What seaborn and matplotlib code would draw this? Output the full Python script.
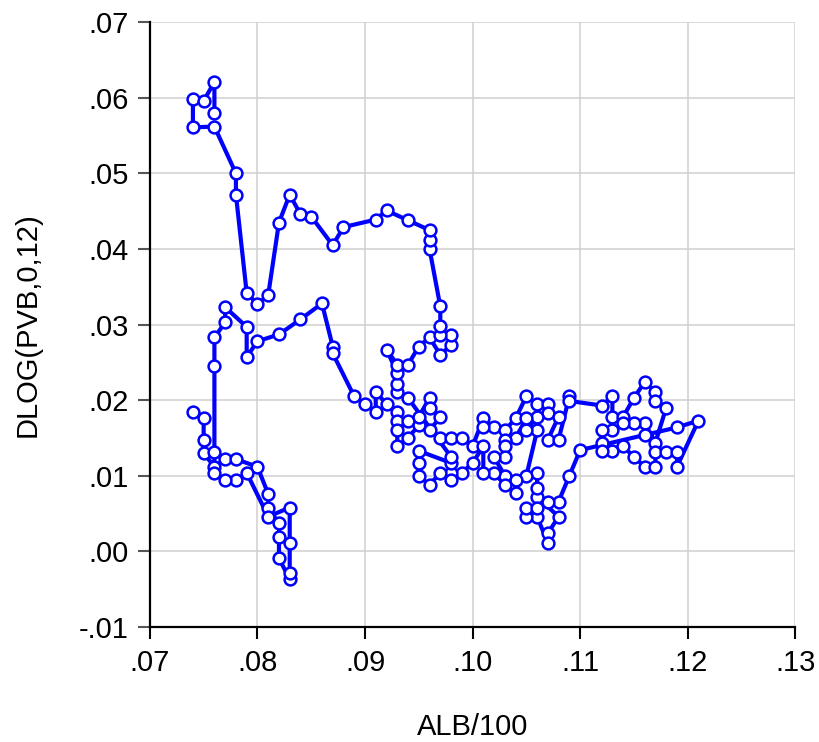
import pandas as pd
import matplotlib.pyplot as plt
import seaborn as sns
from matplotlib.ticker import FuncFormatter, MultipleLocator

# Values, in path order
alb = [
    .074, .075, .075, .075, .076, .077, .078, .080, .081, .081,
    .082, .082, .082, .083, .083, .083, .083, .081, .079, .078,
    .077, .076, .076, .076, .076, .077, .077, .079, .079, .080,
    .082, .084, .086, .087, .087, .089,
    .090, .091, .091, .092, .093, .093, .094, .093, .093, .094,
    .095, .095, .096, .096, .097, .096, .097, .098, .099, .100,
    .101, .102, .101, .103, .104, .105, .106, .107, .107, .108,
    .107, .108, .109, .109, .112, .113, .113, .114, .115, .116,
    .117, .117, .118, .117, .116, .115, .114, .113, .112, .112,
    .113, .112, .114, .115, .116, .117, .117, .118, .119, .119,
    .121, .119, .116, .110, .109, .108, .107, .106, .108, .107,
    .107, .106, .105, .105, .106, .106, .106, .105, .106, .105,
    .106, .105, .104, .103, .103, .103, .102, .103, .104, .104,
    .103, .102, .101, .101, .100, .099, .098, .098, .097, .096,
    .095, .095, .095, .098, .098, .094, .093, .093, .093, .092,
    .093, .094, .095, .096, .097, .098, .098, .097, .097, .097,
    .096, .096, .096, .094, .092, .091, .088, .087, .085, .084,
    .083, .082, .081, .080, .079, .078, .078, .076, .074, .074,
    .075, .076, .076,
]
dlog_pvb = [
    .0184, .0176, .0148, .0130, .0112, .0122, .0122, .0112, .0076, .0058,
    .0037, .0019, -.0009, -.0037, -.0028, .0011, .0058, .0046, .0104, .0094,
    .0094, .0104, .0131, .0245, .0283, .0303, .0323, .0297, .0257, .0278,
    .0287, .0307, .0328, .0271, .0262, .0205,
    .0195, .0185, .0211, .0195, .0185, .0173, .0173, .0160, .0139, .0150,
    .0167, .0178, .0203, .0190, .0178, .0160, .0150, .0150, .0150, .0139,
    .0176, .0164, .0164, .0160, .0176, .0205, .0195, .0195, .0183, .0178,
    .0148, .0148, .0205, .0199, .0193, .0205, .0178, .0178, .0203, .0224,
    .0211, .0199, .0190, .0144, .0170, .0170, .0170, .0160, .0160, .0144,
    .0133, .0133, .0139, .0125, .0112, .0112, .0131, .0131, .0131, .0112,
    .0173, .0164, .0154, .0134, .0100, .0066, .0066, .0072, .0046, .0024,
    .0011, .0046, .0046, .0058, .0058, .0084, .0104, .0100, .0160, .0160,
    .0178, .0176, .0150, .0148, .0139, .0125, .0125, .0100, .0094, .0077,
    .0088, .0104, .0104, .0139, .0117, .0104, .0104, .0094, .0104, .0088,
    .0100, .0117, .0133, .0117, .0125, .0203, .0211, .0222, .0236, .0267,
    .0247, .0247, .0271, .0283, .0260, .0273, .0286, .0286, .0298, .0324,
    .0400, .0412, .0425, .0438, .0451, .0439, .0429, .0405, .0443, .0446,
    .0472, .0435, .0339, .0327, .0342, .0472, .0500, .0562, .0561, .0599,
    .0596, .0621, .0580,
]

df = pd.DataFrame({'ALB/100': alb, 'DLOG(PVB,0,12)': dlog_pvb})

sns.set_style('whitegrid')
plt.rcParams['font.family'] = ['Liberation Sans', 'DejaVu Sans']

fig = plt.figure(figsize=(8.19, 7.42), dpi=100)
ax = fig.add_axes([0.183, 0.155, 0.788, 0.815])

sns.lineplot(data=df, x='ALB/100', y='DLOG(PVB,0,12)', sort=False, estimator=None,
             color='blue', linewidth=3.0, marker='o', markersize=8.5,
             markerfacecolor='white', markeredgecolor='blue',
             markeredgewidth=1.8, ax=ax)

ax.set_xlim(0.07, 0.13)
ax.set_ylim(-0.01, 0.07)
ax.xaxis.set_major_locator(MultipleLocator(0.01))
ax.yaxis.set_major_locator(MultipleLocator(0.01))


def short_fmt(v, pos):
    s = f'{v:.2f}'
    if s == '-0.00':
        s = '0.00'
    return s.replace('0.', '.', 1)


ax.xaxis.set_major_formatter(FuncFormatter(short_fmt))
ax.yaxis.set_major_formatter(FuncFormatter(short_fmt))

ax.grid(True, color='#d0d0d0', linewidth=1.1)
ax.set_axisbelow(True)
for side in ['top', 'right']:
    ax.spines[side].set_visible(False)
for side in ['left', 'bottom']:
    ax.spines[side].set_color('black')
    ax.spines[side].set_linewidth(1.6)

ax.tick_params(axis='both', which='major', length=8.5, width=1.5, direction='out',
               labelsize=21, pad=7, labelcolor='black')
ax.tick_params(axis='x', bottom=True, color='black')
ax.tick_params(axis='y', left=True, color='#555555')

ax.set_xlabel('ALB/100', fontsize=21, color='black')
ax.set_ylabel('DLOG(PVB,0,12)', fontsize=21, color='black')
ax.xaxis.set_label_coords(0.5, -0.143)
ax.yaxis.set_label_coords(-0.167, 0.5)

fig.savefig('out.png', dpi=100)
